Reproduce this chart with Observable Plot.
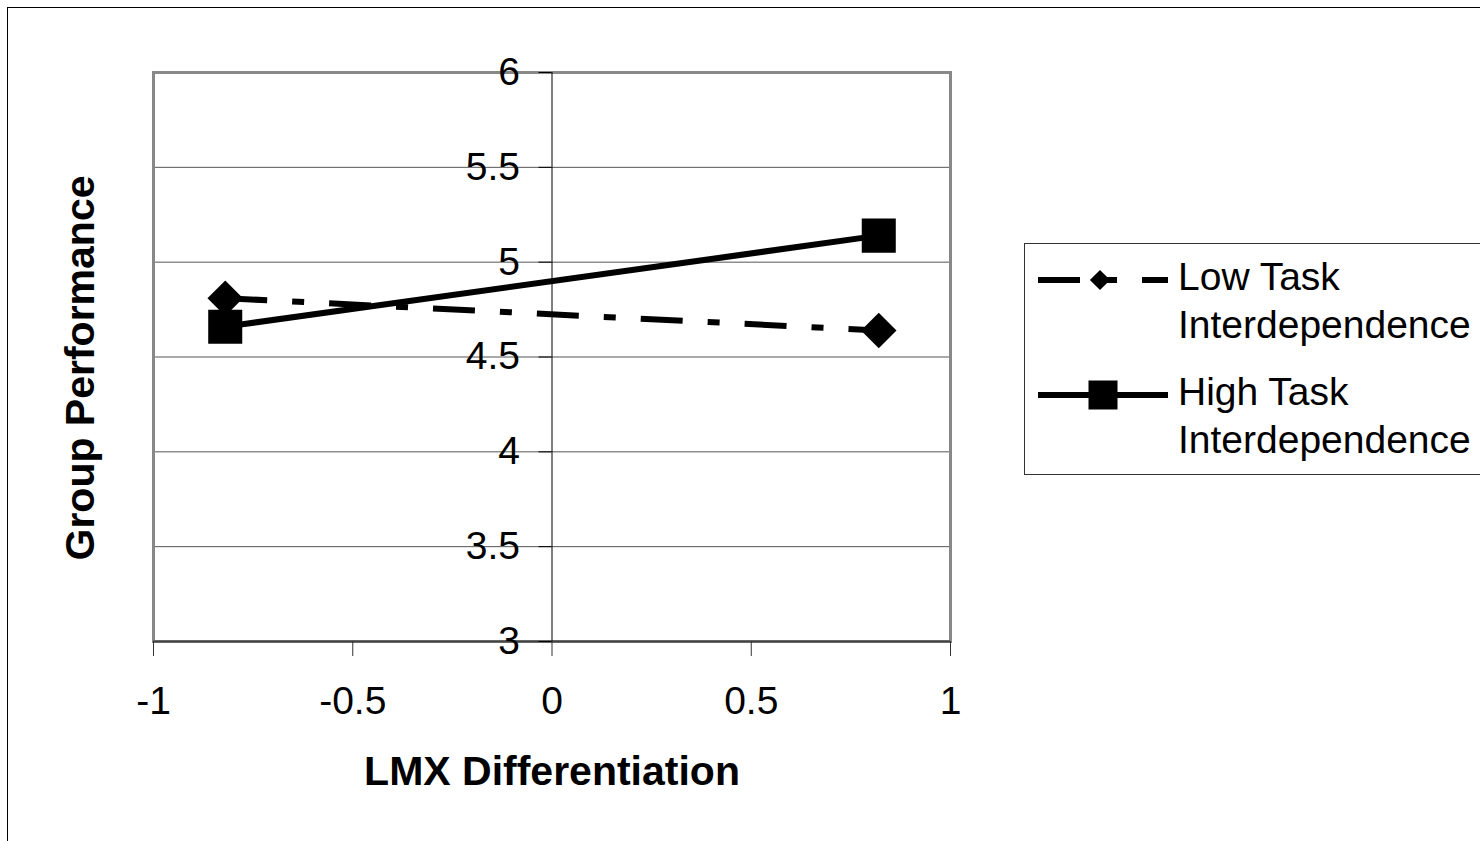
<!DOCTYPE html>
<html><head><meta charset="utf-8">
<script src="https://cdn.jsdelivr.net/npm/d3@7"></script>
<script src="https://cdn.jsdelivr.net/npm/@observablehq/plot@0.6"></script>
<style>
html,body{margin:0;padding:0;background:#fff;overflow:hidden;}
#wrap{position:relative;width:1480px;height:841px;overflow:hidden;font-family:"Liberation Sans",Arial,sans-serif;}
#outer{position:absolute;left:7px;top:7px;width:1600px;height:1000px;border:1.5px solid #000;box-sizing:border-box;}
#chart{position:absolute;left:0;top:0;}
#legend{position:absolute;left:1024px;top:243px;}
</style></head><body>
<div id="wrap"><div id="outer"></div><div id="chart"></div><div id="legend"></div></div>
<script>
// ---- data ----
const xValues = [-0.82, 0.82];
const lowTask = [4.81, 4.64];
const highTask = [4.66, 5.14];
const seriesLow = ["Low Task", "Interdependence"];
const seriesHigh = ["High Task", "Interdependence"];
const xTicks = [-1, -0.5, 0, 0.5, 1];
const yTicks = [3, 3.5, 4, 4.5, 5, 5.5, 6];
const xTitle = "LMX Differentiation";
const yTitle = "Group Performance";

const lowRows = xValues.map((x, i) => ({x, y: lowTask[i]}));
const highRows = xValues.map((x, i) => ({x, y: highTask[i]}));
const DASH = "42,25,12,25";
const FONT = "'Liberation Sans', Arial, sans-serif";

const chart = Plot.plot({
  width: 1480, height: 841,
  marginLeft: 153, marginRight: 530, marginTop: 72, marginBottom: 200,
  x: {domain: [-1, 1], axis: null},
  y: {domain: [3, 6], axis: null},
  style: {fontFamily: FONT, background: "transparent", overflow: "visible", color: "#000"},
  marks: [
    Plot.ruleY(yTicks.filter(d => d > 3 && d < 6), {stroke: "#555", strokeWidth: 1}),
    Plot.frame({stroke: "#888", strokeWidth: 3}),
    Plot.ruleY([3], {stroke: "#444", strokeWidth: 2}),
    Plot.ruleX([0], {stroke: "#000", strokeWidth: 1}),
    Plot.ruleY(yTicks, {x1: 0, x2: 0, insetLeft: -13, stroke: "#000", strokeWidth: 1}),
    Plot.text(yTicks, {x: 0, y: d => d, text: d => String(d), textAnchor: "end", dx: -32, fontSize: 39, fill: "#000"}),
    Plot.axisX(xTicks, {tickSize: 15, tickPadding: 30, fontSize: 39, tickFormat: d => String(d), label: null, stroke: "#333", fill: "#000"}),
    Plot.text([xTitle], {frameAnchor: "bottom", dy: 130, lineAnchor: "middle", textAnchor: "middle", fontSize: 41, fontWeight: "bold", fill: "#000"}),
    Plot.text([yTitle], {frameAnchor: "left", dx: -73, dy: 11, rotate: -90, lineAnchor: "middle", textAnchor: "middle", fontSize: 41, fontWeight: "bold", fill: "#000"}),
    Plot.line(lowRows, {x: "x", y: "y", stroke: "#000", strokeWidth: 6, strokeDasharray: DASH, strokeLinecap: "butt"}),
    Plot.line(highRows, {x: "x", y: "y", stroke: "#000", strokeWidth: 6}),
    Plot.dot(lowRows, {x: "x", y: "y", symbol: "diamond2", r: 16, fill: "#000"}),
    Plot.dot(highRows, {x: "x", y: "y", symbol: "square", r: 19.2, fill: "#000"})
  ]
});
document.getElementById("chart").appendChild(chart);

// ---- legend ----
const lg = d3.select("#legend").append("svg").attr("width", 460).attr("height", 233)
  .style("font-family", FONT);
lg.append("rect").attr("x", 0.5).attr("y", 0.5).attr("width", 600).attr("height", 231)
  .attr("fill", "#fff").attr("stroke", "#333").attr("stroke-width", 1);
const entries = [
  {lines: seriesLow, y: 37, dash: DASH, sym: "diamond"},
  {lines: seriesHigh, y: 152, dash: null, sym: "square"}
];
entries.forEach(e => {
  const g = lg.append("g");
  g.append("line").attr("x1", 14).attr("x2", 144).attr("y1", e.y).attr("y2", e.y)
    .attr("stroke", "#000").attr("stroke-width", 6).attr("stroke-dasharray", e.dash);
  if (e.sym === "diamond") {
    g.append("path").attr("d", d3.symbol(d3.symbolDiamond2, 260)()).attr("transform", `translate(76,${e.y})`).attr("fill", "#000");
  } else {
    g.append("rect").attr("x", 64.5).attr("y", e.y - 14.5).attr("width", 29).attr("height", 29).attr("fill", "#000");
  }
  const t = g.append("text").attr("x", 154).attr("y", e.y + 10).attr("font-size", 39).attr("fill", "#000");
  t.append("tspan").attr("x", 154).text(e.lines[0]);
  t.append("tspan").attr("x", 154).attr("dy", 48).text(e.lines[1]);
});
</script>
</body></html>
